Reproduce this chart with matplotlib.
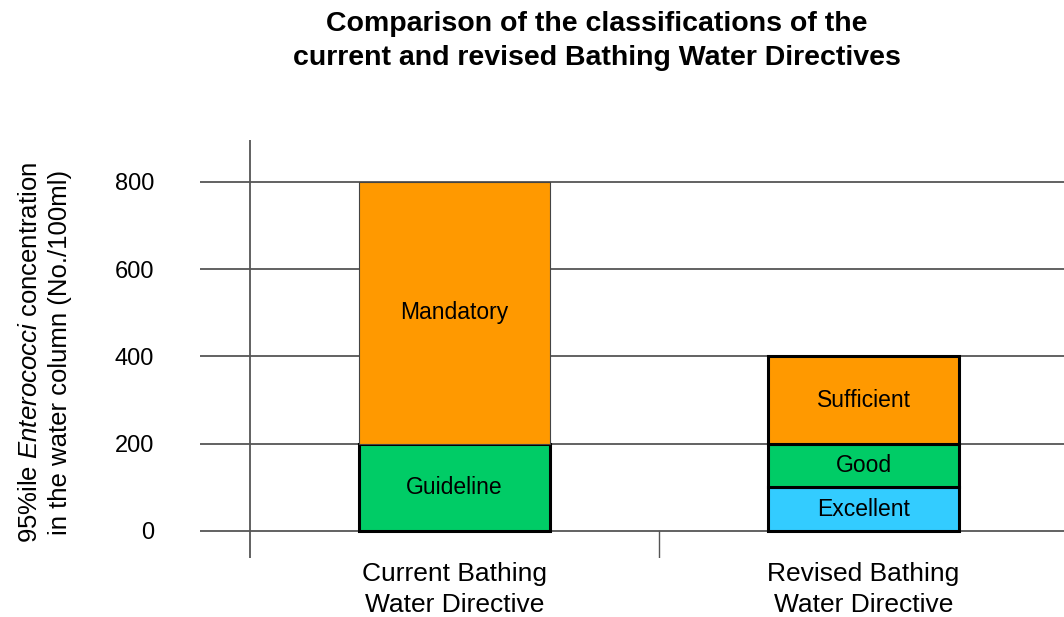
import numpy as np
import matplotlib.pyplot as plt

plt.rcParams['font.family'] = ['Liberation Sans', 'DejaVu Sans']
plt.rcParams['mathtext.fontset'] = 'custom'
plt.rcParams['mathtext.it'] = 'Liberation Sans:italic'
plt.rcParams['mathtext.rm'] = 'Liberation Sans'

categories = ["Current Bathing\nWater Directive", "Revised Bathing\nWater Directive"]

current_names = ["Guideline", "Mandatory"]
current_values = [200, 600]
current_colors = ["#00CC66", "#FF9900"]

revised_names = ["Excellent", "Good", "Sufficient"]
revised_values = [100, 100, 200]
revised_colors = ["#33CCFF", "#00CC66", "#FF9900"]

yticks = [0, 200, 400, 600, 800]

fig = plt.figure(figsize=(10.64, 6.17), dpi=100)
ax = fig.add_axes([200 / 1064, 1 - 558 / 617, 1 - 200 / 1064, (558 - 140) / 617])

xmin, xmax = -0.622, 1.49
ax.set_xlim(xmin, xmax)
ax.set_ylim(-62, 896)

for y in yticks:
    ax.axhline(y, color="#555555", lw=1.3, zorder=1)

width = 0.465


def stack(x, names, values, colors, thin_top=False):
    bottom = 0
    for i, (n, v, c) in enumerate(zip(names, values, colors)):
        if thin_top and i == len(names) - 1:
            ec, lw = "#444444", 0.8
        else:
            ec, lw = "black", 2.2
        ax.bar(x, v, width, bottom=bottom, color=c, edgecolor=ec, linewidth=lw, zorder=3)
        ax.text(x, bottom + v / 2, n, ha="center", va="center", fontsize=16.5, zorder=4)
        bottom += v


stack(0, current_names, current_values, current_colors, thin_top=True)
stack(1, revised_names, revised_values, revised_colors)

# y axis line and category separator
ax.plot([-0.5, -0.5], [-62, 896], color="#555555", lw=1.3, zorder=2)
ax.plot([0.5, 0.5], [-62, 0], color="#555555", lw=1.0, zorder=2)

for s in ax.spines.values():
    s.set_visible(False)

ax.set_yticks(yticks)
ax.set_yticklabels([str(t) for t in yticks], fontsize=17)
ax.tick_params(axis="y", length=0, pad=33)
ax.set_xticks([0, 1])
ax.set_xticklabels(categories, fontsize=19, linespacing=1.35)
ax.tick_params(axis="x", length=0, pad=3)

fig.text(45 / 1064, 1 - 352 / 617,
         "95%ile $\\it{Enterococci}$ concentration\nin the water column (No./100ml)",
         rotation=90, ha="center", va="center", fontsize=18.5, multialignment="center",
         linespacing=1.35)

fig.text(597 / 1064, 1 - 41 / 617,
         "Comparison of the classifications of the\ncurrent and revised Bathing Water Directives",
         ha="center", va="center", fontsize=20.5, fontweight="bold", linespacing=1.4)

fig.savefig("out.png", dpi=100)
